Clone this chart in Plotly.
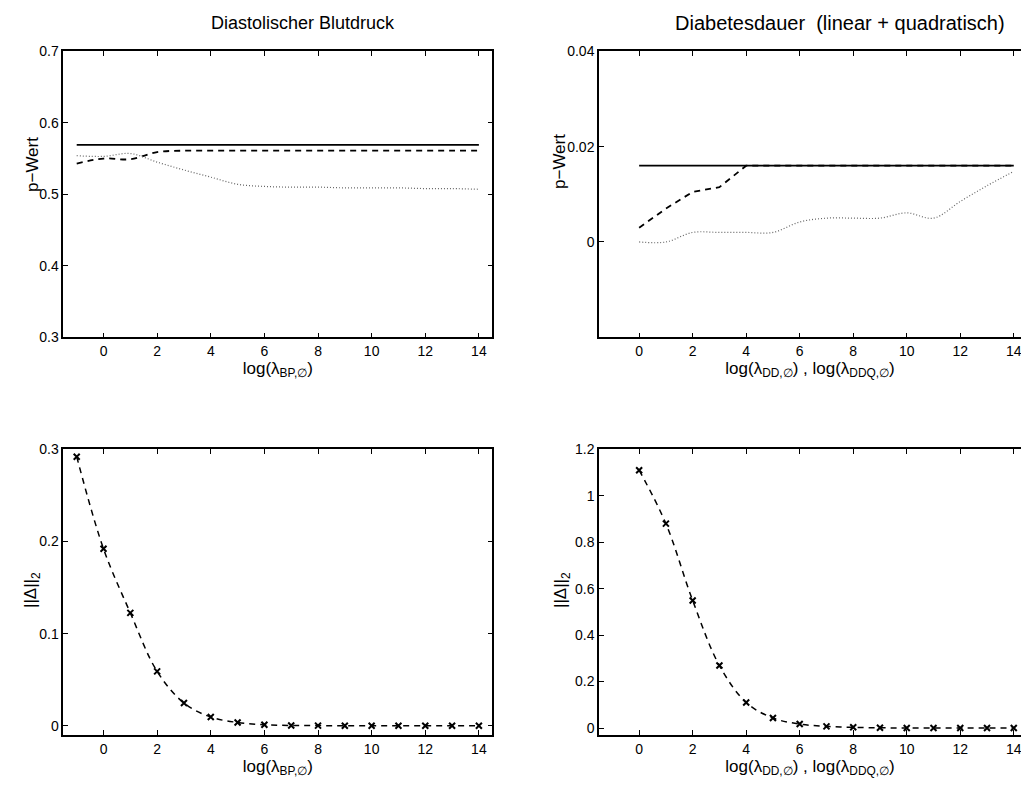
import plotly.graph_objects as go

# ---------------- data ----------------
x_bp = [-1, 0, 1, 2, 3, 4, 5, 6, 7, 8, 9, 10, 11, 12, 13, 14]
p_bp_solid = [0.569] * 16
p_bp_dashed = [0.543, 0.550, 0.549, 0.559, 0.561, 0.561, 0.561, 0.561, 0.561, 0.561, 0.561, 0.561, 0.561, 0.561, 0.561, 0.561]
p_bp_dotted = [0.554, 0.553, 0.557, 0.545, 0.534, 0.524, 0.514, 0.511, 0.510, 0.510, 0.509, 0.509, 0.509, 0.508, 0.508, 0.507]

x_dd = [0, 1, 2, 3, 4, 5, 6, 7, 8, 9, 10, 11, 12, 13, 14]
p_dd_solid = [0.016] * 15
p_dd_dashed = [0.003, 0.007, 0.0105, 0.0115, 0.016, 0.016, 0.016, 0.016, 0.016, 0.016, 0.016, 0.016, 0.016, 0.016, 0.016]
p_dd_dotted = [0.0, 0.0, 0.002, 0.002, 0.002, 0.002, 0.0042, 0.005, 0.005, 0.005, 0.0061, 0.005, 0.0085, 0.0118, 0.0148]

delta_bp = [0.292, 0.192, 0.1225, 0.059, 0.0247, 0.0095, 0.0036, 0.0011, 0.0004, 0.0002, 0.0001, 0.0, 0.0, 0.0, 0.0, 0.0]
delta_dd = [1.11, 0.88, 0.549, 0.269, 0.11, 0.043, 0.017, 0.007, 0.003, 0.001, 0.0005, 0.0002, 0.0, 0.0, 0.0]

x_ticks = [0, 2, 4, 6, 8, 10, 12, 14]

title_left = "Diastolischer Blutdruck"
title_right = "Diabetesdauer\u00a0\u00a0(linear + quadratisch)"
xlab_left = "log(λ<sub>BP,∅</sub>)"
xlab_right = "log(λ<sub>DD,∅</sub>) , log(λ<sub>DDQ,∅</sub>)"
ylab_top = "p−Wert"
ylab_bottom = "||Δ||<sub>2</sub>"

# ---------------- figure ----------------
W, H = 1021, 790
FONT = "Liberation Sans, Arial, sans-serif"

fig = go.Figure()

def px_x(p):
    return p / W

def px_y(p):
    return 1 - p / H

dom_x_left = [px_x(63.3), px_x(492.3)]
dom_x_right = [px_x(599), 1.0]
dom_y_top = [px_y(337.3), px_y(51.3)]
dom_y_bot = [px_y(735), px_y(449.3)]

BLACK = "black"
MARK = dict(symbol="x-thin", size=6, color=BLACK, line=dict(width=2, color=BLACK))

# top-left
fig.add_trace(go.Scatter(x=x_bp, y=p_bp_solid, mode="lines", line=dict(color=BLACK, width=1.8), xaxis="x", yaxis="y", showlegend=False))
fig.add_trace(go.Scatter(x=x_bp, y=p_bp_dashed, mode="lines", line=dict(color=BLACK, width=1.8, dash="6px,5px", shape="spline"), xaxis="x", yaxis="y", showlegend=False))
fig.add_trace(go.Scatter(x=x_bp, y=p_bp_dotted, mode="lines", line=dict(color="#666666", width=1.2, dash="1px,2px", shape="spline"), xaxis="x", yaxis="y", showlegend=False))

# top-right
fig.add_trace(go.Scatter(x=x_dd, y=p_dd_solid, mode="lines", line=dict(color=BLACK, width=1.8), xaxis="x2", yaxis="y2", showlegend=False))
fig.add_trace(go.Scatter(x=x_dd, y=p_dd_dashed, mode="lines", line=dict(color=BLACK, width=1.8, dash="6px,5px"), xaxis="x2", yaxis="y2", showlegend=False))
fig.add_trace(go.Scatter(x=x_dd, y=p_dd_dotted, mode="lines", line=dict(color="#666666", width=1.2, dash="1px,2px", shape="spline"), xaxis="x2", yaxis="y2", showlegend=False))

# bottom-left
fig.add_trace(go.Scatter(x=x_bp, y=delta_bp, mode="lines+markers", line=dict(color=BLACK, width=1.5, dash="6px,5px", shape="spline"),
                         marker=MARK, xaxis="x3", yaxis="y3", showlegend=False))
# bottom-right
fig.add_trace(go.Scatter(x=x_dd, y=delta_dd, mode="lines+markers", line=dict(color=BLACK, width=1.5, dash="6px,5px", shape="spline"),
                         marker=MARK, xaxis="x4", yaxis="y4", showlegend=False))

tickfont = dict(family=FONT, size=14, color="black")
labelfont = dict(family=FONT, size=17, color="black")

def xax(domain, anchor, rng, title):
    return dict(domain=domain, anchor=anchor, range=rng, tickvals=x_ticks, ticks="inside", ticklen=5,
                tickcolor=BLACK, tickwidth=1, showline=True, linecolor=BLACK, linewidth=1.5, mirror="ticks",
                showgrid=False, zeroline=False, tickfont=tickfont, automargin=False, ticklabeloverflow="allow",
                title=dict(text=title, font=labelfont, standoff=4))

def yax(domain, anchor, rng, tickvals, ticktext, mirror):
    return dict(domain=domain, anchor=anchor, range=rng, tickvals=tickvals, ticktext=ticktext, ticks="inside", ticklen=5,
                tickcolor=BLACK, tickwidth=1, showline=True, linecolor=BLACK, linewidth=1.5, mirror=mirror,
                showgrid=False, zeroline=False, tickfont=tickfont, automargin=False, ticklabeloverflow="allow")

def ylab(text, xp, yp):
    return dict(text=text, x=px_x(xp), y=px_y(yp), xref="paper", yref="paper", showarrow=False,
                textangle=-90, font=labelfont, xanchor="center", yanchor="middle")

fig.update_layout(
    width=W, height=H,
    margin=dict(l=0, r=0, t=0, b=0, pad=0),
    paper_bgcolor="white", plot_bgcolor="white",
    font=dict(family=FONT, color="black"),
    xaxis=xax(dom_x_left, "y", [-1.5, 14.5], xlab_left),
    yaxis=yax(dom_y_top, "x", [0.3, 0.7], [0.3, 0.4, 0.5, 0.6, 0.7], ["0.3", "0.4", "0.5", "0.6", "0.7"], "ticks"),
    xaxis2=xax(dom_x_right, "y2", [-1.5, 14.27], xlab_right),
    yaxis2=yax(dom_y_top, "x2", [-0.02, 0.04], [0, 0.02, 0.04], ["0", "0.02", "0.04"], False),
    xaxis3=xax(dom_x_left, "y3", [-1.5, 14.5], xlab_left),
    yaxis3=yax(dom_y_bot, "x3", [-0.01, 0.3], [0, 0.1, 0.2, 0.3], ["0", "0.1", "0.2", "0.3"], "ticks"),
    xaxis4=xax(dom_x_right, "y4", [-1.5, 14.27], xlab_right),
    yaxis4=yax(dom_y_bot, "x4", [-0.03, 1.2], [0, 0.2, 0.4, 0.6, 0.8, 1.0, 1.2], ["0", "0.2", "0.4", "0.6", "0.8", "1", "1.2"], False),
    annotations=[
        dict(text=title_left, x=px_x(303), y=px_y(23), xref="paper", yref="paper",
             showarrow=False, font=dict(family=FONT, size=18, color="black"), xanchor="center", yanchor="middle"),
        dict(text=title_right, x=px_x(840), y=px_y(23), xref="paper", yref="paper",
             showarrow=False, font=dict(family=FONT, size=20, color="black"), xanchor="center", yanchor="middle"),
        ylab(ylab_top, 32, 165),
        ylab(ylab_top, 559, 162),
        ylab(ylab_bottom, 32, 590),
        ylab(ylab_bottom, 562, 590),
    ],
)

fig.write_html("out.html")
